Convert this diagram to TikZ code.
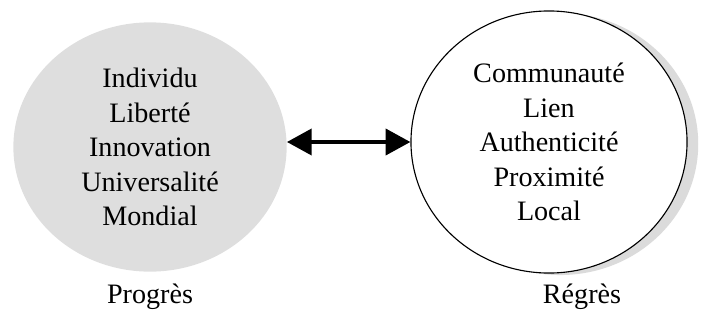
\documentclass[tikz,border=0pt]{standalone}
\usepackage{fontspec}
\setmainfont{Liberation Serif}
\usetikzlibrary{shapes.geometric,shadows,arrows.meta}

\tikzset{
  bulle/.style={ellipse, align=center, inner sep=0pt,
    font=\fontsize{20}{24.5}\selectfont},
  legende/.style={font=\fontsize{20}{24}\selectfont}
}

\begin{document}
\begin{tikzpicture}[x=0.025cm,y=-0.025cm]
    \useasboundingbox (0,0) rectangle (701,329);
    \node[bulle, fill=black!13, minimum width=6.83cm, minimum height=6.23cm] (prog) at (150,147)
      {Individu\\Libert\'e\\Innovation\\Universalit\'e\\Mondial};
    \node[bulle, draw, line width=0.8pt, fill=white, minimum width=6.9cm, minimum height=6.55cm,
      drop shadow={shadow xshift=0.28cm, shadow yshift=-0.05cm, fill=black!14, opacity=1}] (regr) at (549,142)
      {Communaut\'e\\Lien\\Authenticit\'e\\Proximit\'e\\Local};
    \node[legende] (lprog) at (150,297) {Progr\`es};
    \node[legende] (lregr) at (582,297) {R\'egr\`es};
    \draw[{Triangle[length=0.62cm,width=0.65cm]}-{Triangle[length=0.62cm,width=0.65cm]}, line width=0.1cm]
      (prog.east |- regr.west) -- (regr.west);
\end{tikzpicture}
\end{document}
